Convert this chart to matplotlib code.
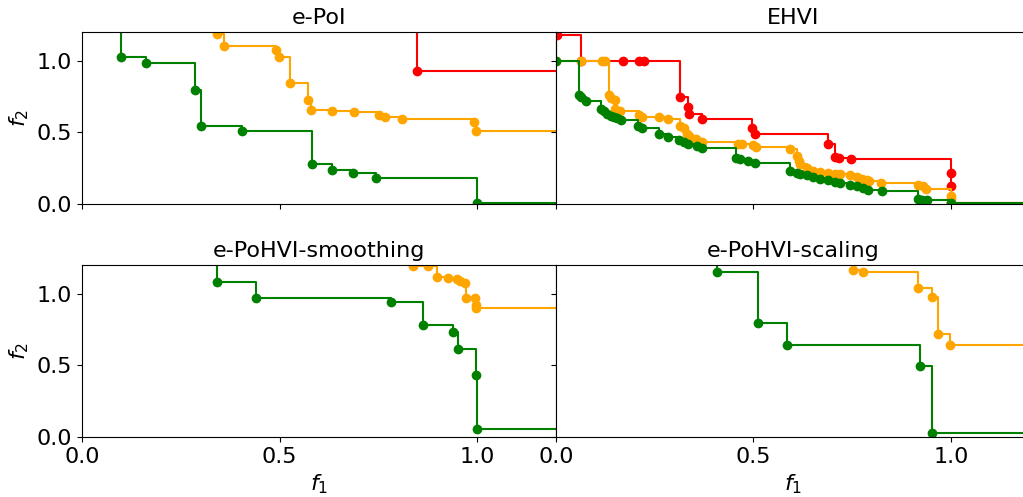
import matplotlib
matplotlib.use('Agg')
import matplotlib.pyplot as plt

plt.rcParams['font.size'] = 16

# e-PoI
poi_green_x = [0.099, 0.163, 0.286, 0.301, 0.406, 0.581, 0.633, 0.685, 0.743, 0.999]
poi_green_y = [1.026, 0.984, 0.797, 0.545, 0.510, 0.277, 0.240, 0.217, 0.182, 0.005]
poi_orange_x = [0.341, 0.359, 0.491, 0.499, 0.527, 0.571, 0.580, 0.634, 0.689, 0.752,
                0.768, 0.810, 0.993, 0.997]
poi_orange_y = [1.187, 1.105, 1.072, 1.026, 0.844, 0.723, 0.655, 0.648, 0.641, 0.622,
                0.608, 0.590, 0.573, 0.508]
poi_red_x = [0.848]
poi_red_y = [0.928]

# EHVI
ehvi_red_x = [0.003, 0.064, 0.170, 0.209, 0.222, 0.313, 0.334, 0.336, 0.370, 0.497,
              0.504, 0.688, 0.706, 0.717, 0.746, 0.999, 0.999, 1.0]
ehvi_red_y = [1.18, 1.0, 1.0, 1.0, 1.0, 0.746, 0.676, 0.625, 0.594, 0.531,
              0.485, 0.420, 0.326, 0.322, 0.317, 0.217, 0.124, 0.008]
ehvi_orange_x = [0.0, 0.064, 0.116, 0.125, 0.135, 0.139, 0.149, 0.150, 0.163, 0.209,
                 0.219, 0.260, 0.284, 0.313, 0.324, 0.332, 0.336, 0.354, 0.370, 0.462,
                 0.470, 0.500, 0.506, 0.592, 0.609, 0.614, 0.618, 0.635, 0.651, 0.668,
                 0.689, 0.706, 0.718, 0.744, 0.761, 0.774, 0.787, 0.793, 0.823, 0.917,
                 0.928, 0.937, 0.999, 0.999, 1.0]
ehvi_orange_y = [1.0, 1.0, 1.0, 1.0, 0.757, 0.741, 0.723, 0.660, 0.648, 0.620,
                 0.606, 0.606, 0.590, 0.543, 0.531, 0.490, 0.473, 0.450, 0.434, 0.422,
                 0.420, 0.410, 0.400, 0.387, 0.333, 0.298, 0.279, 0.252, 0.228, 0.224,
                 0.217, 0.212, 0.212, 0.200, 0.186, 0.177, 0.166, 0.159, 0.147, 0.135,
                 0.124, 0.105, 0.054, 0.035, 0.008]
ehvi_green_x = [0.0, 0.057, 0.064, 0.077, 0.115, 0.121, 0.129, 0.138, 0.146, 0.154,
                0.165, 0.208, 0.219, 0.260, 0.284, 0.312, 0.323, 0.334, 0.357, 0.370,
                0.457, 0.466, 0.485, 0.505, 0.592, 0.609, 0.618, 0.635, 0.651, 0.668,
                0.688, 0.706, 0.718, 0.744, 0.761, 0.778, 0.791, 0.825, 0.917, 0.926,
                0.939, 0.999]
ehvi_green_y = [1.0, 0.757, 0.746, 0.718, 0.660, 0.648, 0.629, 0.617, 0.606, 0.597,
                0.585, 0.543, 0.527, 0.490, 0.466, 0.443, 0.431, 0.420, 0.403, 0.392,
                0.322, 0.317, 0.298, 0.287, 0.228, 0.214, 0.210, 0.200, 0.189, 0.177,
                0.166, 0.154, 0.147, 0.135, 0.124, 0.112, 0.100, 0.089, 0.037, 0.030,
                0.026, 0.008]

# e-PoHVI-smoothing
smooth_green_x = [0.341, 0.440, 0.781, 0.864, 0.940, 0.952, 0.997, 0.999]
smooth_green_y = [1.079, 0.970, 0.939, 0.783, 0.730, 0.611, 0.434, 0.054]
smooth_orange_x = [0.839, 0.877, 0.898, 0.927, 0.949, 0.957, 0.970, 0.972, 0.995, 0.997, 0.997]
smooth_orange_y = [1.196, 1.19, 1.117, 1.110, 1.104, 1.086, 1.075, 0.970, 0.970, 0.923, 0.900]

# e-PoHVI-scaling
scale_green_x = [0.407, 0.512, 0.586, 0.922, 0.953]
scale_green_y = [1.149, 0.795, 0.639, 0.497, 0.026]
scale_orange_x = [0.753, 0.778, 0.916, 0.953, 0.966, 0.997]
scale_orange_y = [1.168, 1.149, 1.040, 0.974, 0.720, 0.639]

panels = [
    ('e-PoI', [(poi_red_x, poi_red_y, 'red'),
               (poi_orange_x, poi_orange_y, 'orange'),
               (poi_green_x, poi_green_y, 'green')]),
    ('EHVI', [(ehvi_red_x, ehvi_red_y, 'red'),
              (ehvi_orange_x, ehvi_orange_y, 'orange'),
              (ehvi_green_x, ehvi_green_y, 'green')]),
    ('e-PoHVI-smoothing', [(smooth_orange_x, smooth_orange_y, 'orange'),
                           (smooth_green_x, smooth_green_y, 'green')]),
    ('e-PoHVI-scaling', [(scale_orange_x, scale_orange_y, 'orange'),
                         (scale_green_x, scale_green_y, 'green')]),
]


def plot_front(ax, xs, ys, color):
    # extend the front up and to the right like an attainment surface
    sx = [xs[0]] + list(xs) + [5.0]
    sy = [5.0] + list(ys) + [ys[-1]]
    ax.step(sx, sy, where='post', color=color, lw=1.5)
    ax.plot(xs, ys, 'o', color=color, ms=6)


fig, axes = plt.subplots(2, 2, sharex=True, sharey=True, figsize=(10.23, 4.97), dpi=100)
fig.subplots_adjust(left=0.0802, right=1.0068, top=0.9356, bottom=0.1207,
                    wspace=0.0, hspace=0.355)

for ax, (title, fronts) in zip(axes.flat, panels):
    for xs, ys, c in fronts:
        plot_front(ax, xs, ys, c)
    ax.set_title(title, fontsize=16)

axes[0, 0].set_xlim(0, 1.2)
axes[0, 0].set_ylim(0, 1.2)
axes[0, 0].set_xticks([0.0, 0.5, 1.0])
axes[0, 0].set_yticks([0.0, 0.5, 1.0])
for ax in axes[:, 0]:
    ax.set_ylabel('$f_2$')
for ax in axes[1, :]:
    ax.set_xlabel('$f_1$')

fig.savefig('out.png', dpi=100)
